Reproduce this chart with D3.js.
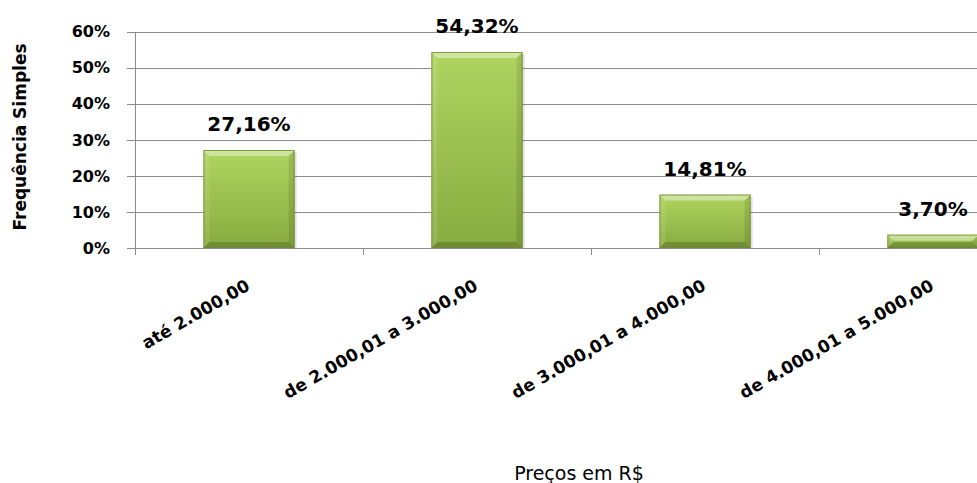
<!DOCTYPE html>
<html>
<head>
    <title>Preços em R$</title>
    <script src="https://d3js.org/d3.v7.min.js"></script>
    <style>
        body { margin: 0; background: #fff; }
        svg { display: block; font-family: "DejaVu Sans", sans-serif; }
    </style>
</head>
<body>
    <svg width="977" height="483"></svg>
    <script>
        // dados
        const categories = ["até 2.000,00", "de 2.000,01 a 3.000,00", "de 3.000,01 a 4.000,00", "de 4.000,01 a 5.000,00"];
        const values = [0.2716, 0.5432, 0.1481, 0.0370];
        const valueLabels = ["27,16%", "54,32%", "14,81%", "3,70%"];
        const yTicks = [0, 0.1, 0.2, 0.3, 0.4, 0.5, 0.6];
        const yTickLabels = ["0%", "10%", "20%", "30%", "40%", "50%", "60%"];

        const svg = d3.select("svg"),
              width = +svg.attr("width"),
              height = +svg.attr("height");

        // a área do gráfico continua além da borda direita (cortada no original)
        const plot = {left: 135, right: 1047, top: 31.5, bottom: 248};

        const x = d3.scaleBand()
                    .domain(categories)
                    .range([plot.left, plot.right])
                    .paddingInner(0.6)
                    .paddingOuter(0.3);
        const y = d3.scaleLinear()
                    .domain([0, 0.6])
                    .range([plot.bottom, plot.top]);

        const defs = svg.append("defs");
        const grad = defs.append("linearGradient")
            .attr("id", "barGrad")
            .attr("x1", 0).attr("y1", 0).attr("x2", 0).attr("y2", 1);
        grad.append("stop").attr("offset", "0%").attr("stop-color", "#b0d460");
        grad.append("stop").attr("offset", "100%").attr("stop-color", "#88ab40");

        // linhas de grade
        svg.append("g")
           .selectAll("line")
           .data(yTicks)
           .enter().append("line")
           .attr("x1", plot.left - 8)
           .attr("x2", plot.right)
           .attr("y1", d => Math.round(y(d)) + 0.5)
           .attr("y2", d => Math.round(y(d)) + 0.5)
           .attr("stroke", "#8c8c8c")
           .attr("stroke-width", 1);

        // eixo vertical
        svg.append("line")
           .attr("x1", plot.left + 0.5).attr("x2", plot.left + 0.5)
           .attr("y1", Math.round(y(0.6))).attr("y2", plot.bottom + 7)
           .attr("stroke", "#8c8c8c");

        // marcas do eixo horizontal entre categorias
        const boundaries = categories.slice(1).map(c => x(c) - x.step() * x.paddingInner() / 2);
        svg.append("g")
           .selectAll("line")
           .data(boundaries)
           .enter().append("line")
           .attr("x1", d => Math.round(d) + 0.5)
           .attr("x2", d => Math.round(d) + 0.5)
           .attr("y1", plot.bottom)
           .attr("y2", plot.bottom + 7)
           .attr("stroke", "#8c8c8c");

        // rótulos do eixo y
        svg.append("g")
           .selectAll("text")
           .data(yTicks)
           .enter().append("text")
           .attr("x", 110)
           .attr("y", d => y(d))
           .attr("dy", "0.36em")
           .attr("text-anchor", "end")
           .attr("font-size", 16)
           .attr("font-weight", "bold")
           .attr("fill", "#000")
           .text((d, i) => yTickLabels[i]);

        // barras com bisel
        const bars = svg.append("g")
            .selectAll("g")
            .data(values)
            .enter().append("g");

        bars.each(function(d, i) {
            const g = d3.select(this);
            const x0 = x(categories[i]), w = x.bandwidth();
            const y0 = y(d), h = y(0) - y(d);
            const b = Math.min(6, h / 2);
            const x1 = x0 + w, y1 = y0 + h;

            g.append("rect")
             .attr("x", x0 + 2).attr("y", y0 + 2)
             .attr("width", w).attr("height", h - 2)
             .attr("fill", "#000").attr("opacity", 0.12);
            g.append("rect")
             .attr("x", x0).attr("y", y0)
             .attr("width", w).attr("height", h)
             .attr("fill", "url(#barGrad)");
            g.append("polygon")
             .attr("points", [[x0, y0], [x1, y0], [x1 - b, y0 + b], [x0 + b, y0 + b]].join(" "))
             .attr("fill", "#fff").attr("opacity", 0.4);
            g.append("polygon")
             .attr("points", [[x0, y1], [x1, y1], [x1 - b, y1 - b], [x0 + b, y1 - b]].join(" "))
             .attr("fill", "#000").attr("opacity", 0.18);
            g.append("polygon")
             .attr("points", [[x0, y0], [x0 + b, y0 + b], [x0 + b, y1 - b], [x0, y1]].join(" "))
             .attr("fill", "#fff").attr("opacity", 0.1);
            g.append("polygon")
             .attr("points", [[x1, y0], [x1 - b, y0 + b], [x1 - b, y1 - b], [x1, y1]].join(" "))
             .attr("fill", "#000").attr("opacity", 0.1);
            g.append("rect")
             .attr("x", x0 + 0.5).attr("y", y0 + 0.5)
             .attr("width", w - 1).attr("height", h - 1)
             .attr("fill", "none")
             .attr("stroke", "#6b8c30").attr("stroke-opacity", 0.8);
        });

        // rótulos de valor
        svg.append("g")
           .selectAll("text")
           .data(values)
           .enter().append("text")
           .attr("x", (d, i) => x(categories[i]) + x.bandwidth() / 2)
           .attr("y", d => y(d) - 19)
           .attr("text-anchor", "middle")
           .attr("font-size", 20)
           .attr("font-weight", "bold")
           .attr("fill", "#000")
           .text((d, i) => valueLabels[i]);

        // rótulos das categorias, inclinados
        svg.append("g")
           .selectAll("text")
           .data(categories)
           .enter().append("text")
           .attr("transform", d => `translate(${x(d) + x.bandwidth() / 2 + 2},289) rotate(-30)`)
           .attr("text-anchor", "end")
           .attr("font-size", 17)
           .attr("font-weight", "bold")
           .attr("fill", "#000")
           .text(d => d);

        // títulos dos eixos
        svg.append("text")
           .attr("transform", "translate(26,137) rotate(-90)")
           .attr("text-anchor", "middle")
           .attr("font-size", 17)
           .attr("font-weight", "bold")
           .text("Frequência Simples");

        svg.append("text")
           .attr("x", 579)
           .attr("y", 480)
           .attr("text-anchor", "middle")
           .attr("font-size", 19)
           .text("Preços em R$");
    </script>
</body>
</html>
